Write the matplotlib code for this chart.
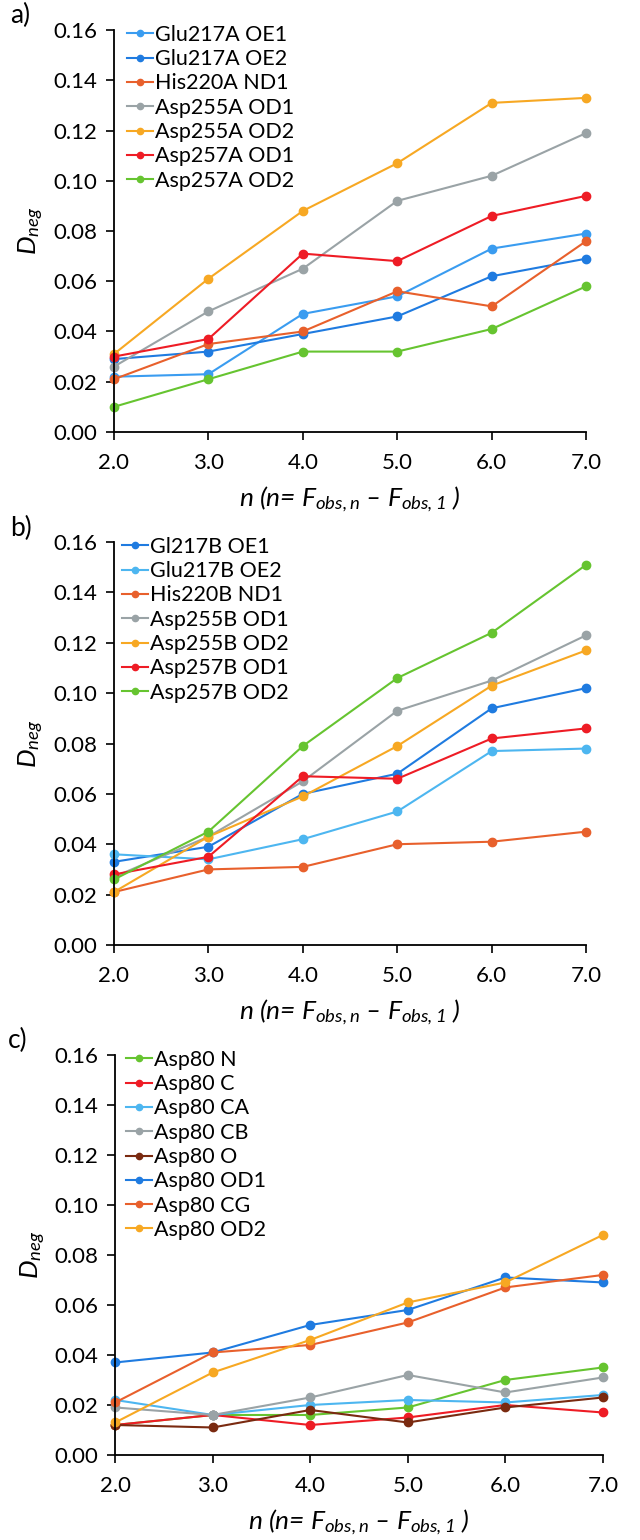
import matplotlib
matplotlib.use("Agg")
import matplotlib.pyplot as plt

plt.rcParams['font.family'] = ['Lato', 'DejaVu Sans']
plt.rcParams['mathtext.fontset'] = 'custom'
plt.rcParams['mathtext.it'] = 'Lato:italic'
plt.rcParams['mathtext.rm'] = 'Lato:italic'

n = [2.0, 3.0, 4.0, 5.0, 6.0, 7.0]

# Panel a
labels_a = ["Glu217A OE1", "Glu217A OE2", "His220A ND1", "Asp255A OD1",
            "Asp255A OD2", "Asp257A OD1", "Asp257A OD2"]
glu217a_oe1 = [0.022, 0.023, 0.047, 0.054, 0.073, 0.079]
glu217a_oe2 = [0.029, 0.032, 0.039, 0.046, 0.062, 0.069]
his220a_nd1 = [0.021, 0.035, 0.040, 0.056, 0.050, 0.076]
asp255a_od1 = [0.026, 0.048, 0.065, 0.092, 0.102, 0.119]
asp255a_od2 = [0.031, 0.061, 0.088, 0.107, 0.131, 0.133]
asp257a_od1 = [0.030, 0.037, 0.071, 0.068, 0.086, 0.094]
asp257a_od2 = [0.010, 0.021, 0.032, 0.032, 0.041, 0.058]

# Panel b
labels_b = ["Gl217B OE1", "Glu217B OE2", "His220B ND1", "Asp255B OD1",
            "Asp255B OD2", "Asp257B OD1", "Asp257B OD2"]
gl217b_oe1 = [0.033, 0.039, 0.060, 0.068, 0.094, 0.102]
glu217b_oe2 = [0.036, 0.034, 0.042, 0.053, 0.077, 0.078]
his220b_nd1 = [0.021, 0.030, 0.031, 0.040, 0.041, 0.045]
asp255b_od1 = [0.027, 0.043, 0.065, 0.093, 0.105, 0.123]
asp255b_od2 = [0.021, 0.043, 0.059, 0.079, 0.103, 0.117]
asp257b_od1 = [0.028, 0.035, 0.067, 0.066, 0.082, 0.086]
asp257b_od2 = [0.026, 0.045, 0.079, 0.106, 0.124, 0.151]

# Panel c
labels_c = ["Asp80 N", "Asp80 C", "Asp80 CA", "Asp80 CB", "Asp80 O",
            "Asp80 OD1", "Asp80 CG", "Asp80 OD2"]
asp80_n = [0.012, 0.016, 0.016, 0.019, 0.030, 0.035]
asp80_c = [0.012, 0.016, 0.012, 0.015, 0.020, 0.017]
asp80_ca = [0.022, 0.016, 0.020, 0.022, 0.021, 0.024]
asp80_cb = [0.019, 0.016, 0.023, 0.032, 0.025, 0.031]
asp80_o = [0.012, 0.011, 0.018, 0.013, 0.019, 0.023]
asp80_od1 = [0.037, 0.041, 0.052, 0.058, 0.071, 0.069]
asp80_cg = [0.021, 0.041, 0.044, 0.053, 0.067, 0.072]
asp80_od2 = [0.013, 0.033, 0.046, 0.061, 0.069, 0.088]

yticks = [0.00, 0.02, 0.04, 0.06, 0.08, 0.10, 0.12, 0.14, 0.16]
xticks = [2.0, 3.0, 4.0, 5.0, 6.0, 7.0]

LBLUE_A = "#3A9CF0"
BLUE = "#1F7BE0"
LBLUE = "#4DB6F0"
ORED = "#E8602C"
GRAY = "#9AA3A6"
ORANGE = "#F7A823"
RED = "#EE1C25"
GREEN = "#66C430"
BROWN = "#7A2A10"

panels = [
    ("a)", [0.178, 0.7195, 0.738, 0.261],
     [glu217a_oe1, glu217a_oe2, his220a_nd1, asp255a_od1, asp255a_od2, asp257a_od1, asp257a_od2],
     labels_a, [LBLUE_A, BLUE, ORED, GRAY, ORANGE, RED, GREEN], 0.0),
    ("b)", [0.178, 0.3864, 0.738, 0.2616],
     [gl217b_oe1, glu217b_oe2, his220b_nd1, asp255b_od1, asp255b_od2, asp257b_od1, asp257b_od2],
     labels_b, [BLUE, LBLUE, ORED, GRAY, ORANGE, RED, GREEN], -0.01),
    ("c)", [0.180, 0.0552, 0.762, 0.2598],
     [asp80_n, asp80_c, asp80_ca, asp80_cb, asp80_o, asp80_od1, asp80_cg, asp80_od2],
     labels_c, [GREEN, RED, LBLUE, GRAY, BROWN, BLUE, ORED, ORANGE], -0.005),
]

xlabel = r'$n$ ($n$= $F_{obs,n}$ – $F_{obs,1}$ )'

fig = plt.figure(figsize=(6.4, 15.4), dpi=100)

for tag, rect, series, labels, colors, lgdx in panels:
    ax = fig.add_axes(rect)
    for vals, lab, col in zip(series, labels, colors):
        ax.plot(n, vals, color=col, lw=1.5, marker='o', ms=6, label=lab, clip_on=False)
    ax.set_xlim(2.0, 7.0)
    ax.set_ylim(0.0, 0.16)
    ax.set_xticks(xticks)
    ax.set_xticklabels([f"{v:.1f}" for v in xticks])
    ax.set_yticks(yticks)
    ax.set_yticklabels([f"{v:.2f}" for v in yticks])
    for s in ['top', 'right']:
        ax.spines[s].set_visible(False)
    for s in ['left', 'bottom']:
        ax.spines[s].set_linewidth(1.3)
        ax.spines[s].set_color('black')
    ax.tick_params(axis='both', labelsize=16, width=1.2, length=6, direction='out', color='black')
    ax.tick_params(axis='x', pad=9)
    ax.tick_params(axis='y', pad=6)
    ax.set_ylabel(r'$D_{neg}$', fontsize=19, labelpad=5)
    ax.set_xlabel(xlabel, fontsize=19, labelpad=8, style='italic')
    ax.legend(loc='upper left', bbox_to_anchor=(lgdx, 1.045), frameon=False, fontsize=15.5,
              handlelength=1.2, handletextpad=0.1, labelspacing=0.2, borderaxespad=0.2,
              markerscale=0.75)
    ax.text(-0.22, 1.035, tag, transform=ax.transAxes, fontsize=19, ha='left', va='center')

fig.savefig("out.png", dpi=100)
